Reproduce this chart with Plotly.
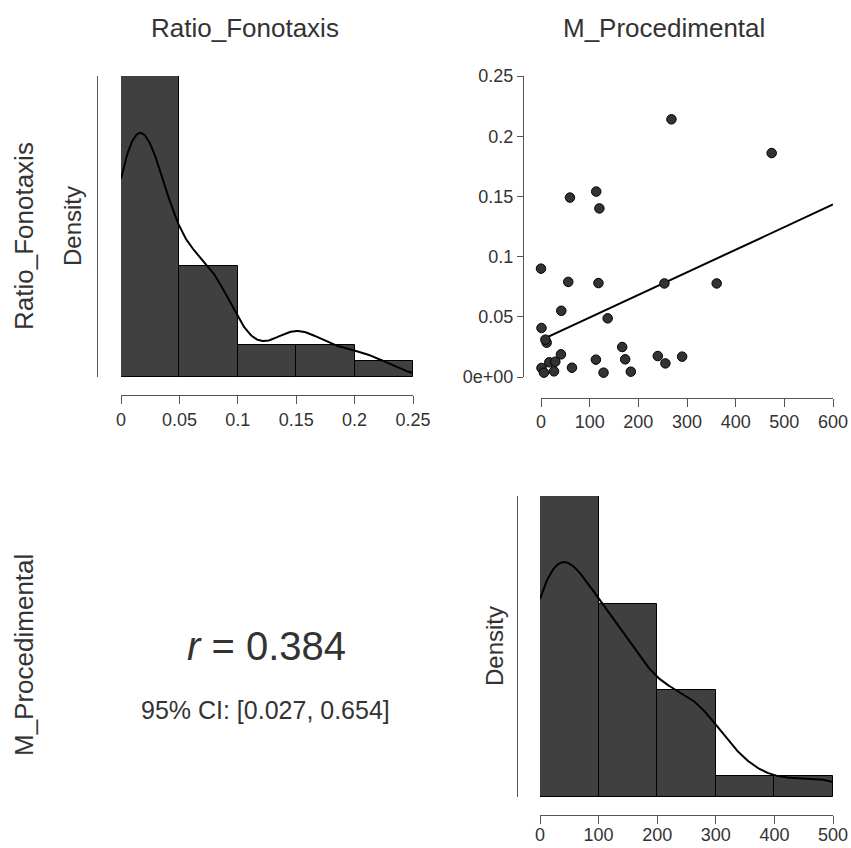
import numpy as np
import plotly.graph_objects as go

# ---------------- data ----------------
var_names = ["Ratio_Fonotaxis", "M_Procedimental"]
m_proc = [268, 474, 59.5, 113.5, 120, 0, 56, 118, 253.6, 361, 41.7, 137, 1, 11.6,
          166.8, 41, 17, 29.4, 112.8, 173, 240, 290, 255.6, 1, 6, 26.7, 63.6, 128.5,
          184.5, 9, None]
ratio_fono = [0.214, 0.186, 0.149, 0.154, 0.140, 0.090, 0.079, 0.078, 0.0777, 0.0777,
              0.055, 0.0487, 0.0407, 0.0285, 0.0249, 0.0188, 0.0122, 0.0127, 0.0144,
              0.0147, 0.0174, 0.0169, 0.0113, 0.0075, 0.0036, 0.0047, 0.0077, 0.0036,
              0.0044, 0.031, 0.065]
ratio_bins = [0, 0.05, 0.1, 0.15, 0.2, 0.25]
ratio_ticks = [0, 0.05, 0.1, 0.15, 0.2, 0.25]
ratio_ticklabels_x = ["0", "0.05", "0.1", "0.15", "0.2", "0.25"]
ratio_ticklabels_y = ["0e+00", "0.05", "0.1", "0.15", "0.2", "0.25"]
mproc_bins = [0, 100, 200, 300, 400, 500]
mproc_ticks_hist = [0, 100, 200, 300, 400, 500]
mproc_ticks_scatter = [0, 100, 200, 300, 400, 500, 600]
r_text = "<i>r</i> = 0.384"
ci_text = "95% CI: [0.027, 0.654]"

# ---------------- helpers ----------------
W, H = 851, 848
def px(x):
    return x / W
def py(y):
    return 1 - y / H

def bw_nrd0(x):
    x = np.asarray(x, float)
    sd = np.std(x, ddof=1)
    iqr = np.subtract(*np.percentile(x, [75, 25]))
    lo = min(sd, iqr / 1.34)
    return 0.9 * lo * len(x) ** (-0.2)

def kde(x, grid):
    x = np.asarray(x, float)
    bw = bw_nrd0(x)
    z = (grid[:, None] - x[None, :]) / bw
    return np.exp(-0.5 * z ** 2).sum(axis=1) / (len(x) * bw * np.sqrt(2 * np.pi))

FONT = "Liberation Sans, Arial, sans-serif"
TXT = "#333333"
AX = "#555555"
BAR = "#404040"

fig = go.Figure()

# ---------- histogram 1: Ratio_Fonotaxis ----------
rv = np.array([v for v in ratio_fono if v is not None], float)
c1, e1 = np.histogram(rv, bins=ratio_bins)
d1 = c1 / (len(rv) * np.diff(e1))
fig.add_trace(go.Bar(x=(e1[:-1] + e1[1:]) / 2, y=d1, width=np.diff(e1),
                     marker=dict(color=BAR, line=dict(color="black", width=1)),
                     xaxis="x", yaxis="y", showlegend=False, hoverinfo="skip"))
g1 = np.linspace(ratio_ticks[0], ratio_ticks[-1], 300)
k1 = kde(rv, g1)
fig.add_trace(go.Scatter(x=g1, y=k1, mode="lines", line=dict(color="black", width=2),
                         xaxis="x", yaxis="y", showlegend=False, hoverinfo="skip"))
ymax1 = max(d1.max(), k1.max())

# ---------- scatter ----------
pairs = [(m, r) for m, r in zip(m_proc, ratio_fono) if m is not None and r is not None]
sx = np.array([p[0] for p in pairs], float)
sy = np.array([p[1] for p in pairs], float)
slope, intercept = np.polyfit(sx, sy, 1)
lx = np.array([mproc_ticks_scatter[0], mproc_ticks_scatter[-1]], float)
fig.add_trace(go.Scatter(x=lx, y=intercept + slope * lx, mode="lines",
                         line=dict(color="black", width=2), cliponaxis=False,
                         xaxis="x2", yaxis="y2", showlegend=False, hoverinfo="skip"))
fig.add_trace(go.Scatter(x=sx, y=sy, mode="markers", cliponaxis=False,
                         marker=dict(size=9.5, color="#333333", line=dict(color="black", width=1)),
                         xaxis="x2", yaxis="y2", showlegend=False))

# ---------- histogram 2: M_Procedimental ----------
mv = np.array([v for v in m_proc if v is not None], float)
c3, e3 = np.histogram(mv, bins=mproc_bins)
d3 = c3 / (len(mv) * np.diff(e3))
fig.add_trace(go.Bar(x=(e3[:-1] + e3[1:]) / 2, y=d3, width=np.diff(e3),
                     marker=dict(color=BAR, line=dict(color="black", width=1)),
                     xaxis="x3", yaxis="y3", showlegend=False, hoverinfo="skip"))
g3 = np.linspace(mproc_ticks_hist[0], mproc_ticks_hist[-1], 300)
k3 = kde(mv, g3)
fig.add_trace(go.Scatter(x=g3, y=k3, mode="lines", line=dict(color="black", width=2),
                         xaxis="x3", yaxis="y3", showlegend=False, hoverinfo="skip"))
ymax3 = max(d3.max(), k3.max())

tickfont = dict(family=FONT, size=18, color=TXT)
def xax(dom, rng, pos, vals, labels, standoff=0):
    return dict(domain=dom, range=rng, anchor="free", position=pos, showline=True,
                linecolor=AX, linewidth=1, ticks="outside", ticklen=8, tickcolor=AX,
                tickwidth=1, tickvals=vals, ticktext=labels, showgrid=False,
                zeroline=False, tickfont=tickfont, fixedrange=True, automargin=False,
                ticklabelstandoff=standoff)
def yax_plain(dom, rng, pos):
    return dict(domain=dom, range=rng, anchor="free", position=pos, showline=True,
                linecolor=AX, linewidth=1, ticks="", showticklabels=False,
                showgrid=False, zeroline=False, fixedrange=True, automargin=False)

fig.update_layout(
    width=W, height=H, autosize=False,
    margin=dict(l=0, r=0, t=0, b=0, pad=0, autoexpand=False),
    paper_bgcolor="white", plot_bgcolor="white", bargap=0, showlegend=False,
    font=dict(family=FONT, color=TXT),
    xaxis=xax([px(121), px(413)], [ratio_ticks[0], ratio_ticks[-1]], py(395),
              ratio_ticks, ratio_ticklabels_x),
    yaxis=yax_plain([py(377), py(76)], [0, ymax1], px(97)),
    xaxis2=xax([px(541), px(833)], [mproc_ticks_scatter[0], mproc_ticks_scatter[-1]],
               py(397.5), mproc_ticks_scatter, [str(v) for v in mproc_ticks_scatter]),
    yaxis2=dict(domain=[py(377), py(76)], range=[ratio_ticks[0], ratio_ticks[-1]],
                anchor="free", position=px(523), showline=True, linecolor=AX,
                ticks="outside", ticklen=6, tickcolor=AX, tickvals=ratio_ticks,
                ticktext=ratio_ticklabels_y, showgrid=False, zeroline=False,
                tickfont=tickfont, fixedrange=True, automargin=False),
    xaxis3=xax([px(540), px(833)], [mproc_ticks_hist[0], mproc_ticks_hist[-1]],
               py(815), mproc_ticks_hist, [str(v) for v in mproc_ticks_hist], standoff=-5),
    yaxis3=yax_plain([py(797), py(496)], [0, ymax3], px(517)),
)

ann = [
    dict(text=var_names[0], x=px(245), y=py(28), size=26, angle=0),
    dict(text=var_names[1], x=px(664), y=py(28), size=26, angle=0),
    dict(text=var_names[0], x=px(24), y=py(236), size=26, angle=-90),
    dict(text=var_names[1], x=px(24), y=py(655), size=26, angle=-90),
    dict(text="Density", x=px(72), y=py(226), size=24, angle=-90),
    dict(text="Density", x=px(494), y=py(646), size=24, angle=-90),
    dict(text=r_text, x=px(266), y=py(646), size=40, angle=0),
    dict(text=ci_text, x=px(265), y=py(710), size=25, angle=0),
]
for a in ann:
    fig.add_annotation(text=a["text"], x=a["x"], y=a["y"], xref="paper", yref="paper",
                       xanchor="center", yanchor="middle", showarrow=False,
                       textangle=a["angle"], font=dict(family=FONT, size=a["size"], color=TXT))

fig.write_html("out.html", config={"responsive": False, "displayModeBar": False},
               post_script="document.body.style.margin='0px';document.body.style.padding='0px';document.body.style.overflow='hidden';")
